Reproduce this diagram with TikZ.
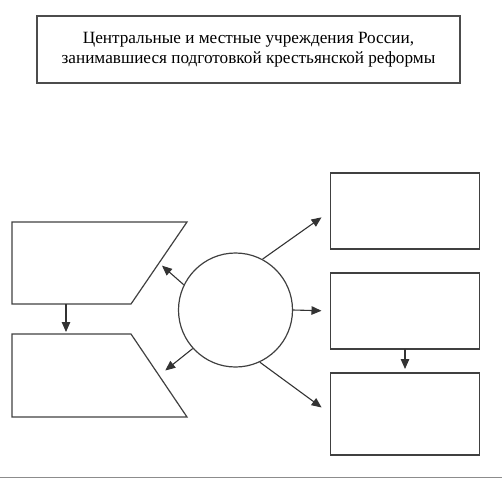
\documentclass[tikz,border=0pt]{standalone}
\usepackage{fontspec}
\setmainfont{Liberation Serif}
\usetikzlibrary{positioning,arrows.meta}

\begin{document}
\begin{tikzpicture} [x=1pt, y=-1pt,
	box/.style={draw=black!75, line width=1.2pt, rectangle, minimum width=149pt, minimum height=76pt, inner sep=0pt, outer sep=0pt},
	slant/.style={draw=black!75, line width=1.2pt, line join=miter},
	arr/.style={draw=black!80, line width=1.1pt, -{Triangle[length=10pt, width=8.5pt]}}]
	\useasboundingbox (0,0) rectangle (502,479);
	\node [draw=black!70, line width=1.4pt, minimum width=423pt, minimum height=67pt, align=center, font=\fontsize{17.2}{20}\selectfont] (title) at (248.5,49.5) {Центральные и местные учреждения России,\\занимавшиеся подготовкой крестьянской реформы};
	\node [circle, draw=black!75, line width=1.2pt, minimum size=114pt, inner sep=0pt] (reform) at (235.5,310) {};
	% the two slanted blocks on the left
	\draw [slant] (12,222) -- (187,222) -- (131,304) -- (12,304) -- cycle;
	\draw [slant] (12,334) -- (131,334) -- (187,417) -- (12,417) -- cycle;
	\coordinate (upper side) at (159,263);
	\coordinate (upper foot) at (66,304);
	\coordinate (lower side) at (159,375.5);
	\coordinate (lower head) at (66,334);
	\node [box] (first) at (405,211) {};
	\node [box, below=24pt of first] (second) {};
	\node [box, minimum height=82pt, below=24pt of second] (third) {};
	\draw [arr, shorten >=11pt] (reform.62) -- (first.west);
	\draw [arr, shorten >=9pt] (reform.east) -- (second.west);
	\draw [arr, shorten >=11pt] (reform.-65) -- (third.west);
	\draw [arr, shorten >=4pt] (reform.154) -- (upper side);
	\draw [arr, shorten >=8pt] (reform.222) -- (lower side);
	\draw [arr, shorten >=2pt] (upper foot) -- (lower head);
	\draw [arr, shorten >=4pt] (second.south) -- (third.north);
	\draw [black!45, line width=1pt] (0,477.5) -- (502,477.5);
\end{tikzpicture}
\end{document}
